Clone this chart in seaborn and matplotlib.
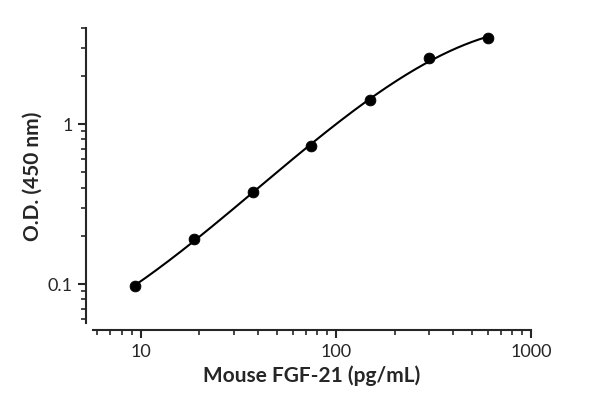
import numpy as np
import matplotlib
matplotlib.use("Agg")
import matplotlib.pyplot as plt
import seaborn as sns

conc = [9.38, 18.75, 37.5, 75, 150, 300, 600]
od = [0.097, 0.19, 0.375, 0.73, 1.41, 2.58, 3.45]

sns.set_style("ticks")
plt.rcParams['font.family'] = ['Lato', 'DejaVu Sans']

fig, ax = plt.subplots(figsize=(6, 4.1), dpi=100)

# smooth curve through the points (cubic fit in log-log space)
lx = np.log10(conc)
ly = np.log10(od)
coef = np.polyfit(lx, ly, 3)
xs = np.linspace(lx[0], lx[-1], 200)
ax.plot(10 ** xs, 10 ** np.polyval(coef, xs), color='black', lw=1.5)
sns.scatterplot(x=conc, y=od, ax=ax, color='black', s=60, edgecolor='black', zorder=3)

ax.set_xscale('log')
ax.set_yscale('log')
ax.set_xlim(5.7, 1000)
ax.set_ylim(0.057, 4.0)
ax.set_xticks([10, 100, 1000])
ax.set_xticklabels(['10', '100', '1000'])
ax.set_yticks([0.1, 1])
ax.set_yticklabels(['0.1', '1'])
ax.tick_params(axis='both', which='major', labelsize=13, width=1.5, length=6)
ax.tick_params(axis='both', which='minor', width=1.2, length=3.5)
for lab in ax.get_xticklabels() + ax.get_yticklabels():
    lab.set_fontweight('bold')
for s in ['left', 'bottom']:
    ax.spines[s].set_linewidth(1.5)
sns.despine(ax=ax, offset=5)

ax.set_xlabel('Mouse FGF-21 (pg/mL)', fontsize=15, fontweight='bold')
ax.set_ylabel('O.D. (450 nm)', fontsize=15, fontweight='bold')

fig.subplots_adjust(left=0.155, right=0.885, top=0.93, bottom=0.21)
fig.savefig('out.png', dpi=100)
